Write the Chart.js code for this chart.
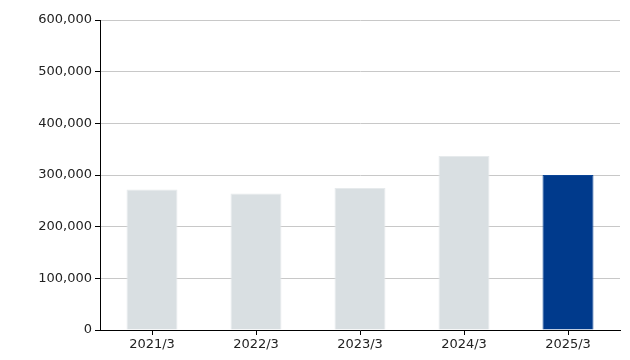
<!DOCTYPE html>
<html><head><meta charset="utf-8">
<script src="https://cdn.jsdelivr.net/npm/chart.js@4"></script>
<style>html,body{margin:0;padding:0;background:#fff}#wrap{width:630px;height:360px}</style>
</head><body><div id="wrap"><canvas id="c" width="630" height="360"></canvas></div>
<script>
const categories = ['2021/3','2022/3','2023/3','2024/3','2025/3'];
const values = [272000, 264000, 275000, 337000, 300000];
const yTicks = [0,100000,200000,300000,400000,500000,600000];
const barColors = ['#d9dfe2','#d9dfe2','#d9dfe2','#d9dfe2','#003a8c'];
const borderColors = ['#e6eaec','#e6eaec','#e6eaec','#e6eaec','#0b4596'];

Chart.defaults.font.family = '"DejaVu Sans", Verdana, sans-serif';
Chart.defaults.font.size = 13;
Chart.defaults.color = '#222';

new Chart(document.getElementById('c'), {
  type: 'bar',
  data: { labels: categories, datasets: [{ data: values, backgroundColor: barColors, borderColor: borderColors, borderWidth: 1, barPercentage: 0.49, categoryPercentage: 1 }] },
  options: {
    responsive: false, animation: false,
    layout: { padding: { top: 20, right: 10, left: 0, bottom: 0 } },
    plugins: { legend: { display: false }, tooltip: { enabled: false } },
    scales: {
      x: {
        grid: { offset: false, drawOnChartArea: false, color: '#000', tickColor: '#000', tickLength: 5 },
        border: { color: '#000', width: 1 },
        ticks: { padding: 2 },
        afterFit: s => { s.height = 30; }
      },
      y: {
        min: 0, max: 600000,
        afterBuildTicks: s => { s.ticks = yTicks.map(v => ({ value: v })); },
        grid: { color: '#c8c8c8', tickColor: '#000', tickLength: 5 },
        border: { color: '#000', width: 1 },
        ticks: { padding: 3, callback: v => v.toLocaleString('en-US') },
        afterFit: s => { s.width = 100; }
      }
    }
  }
});
</script></body></html>
